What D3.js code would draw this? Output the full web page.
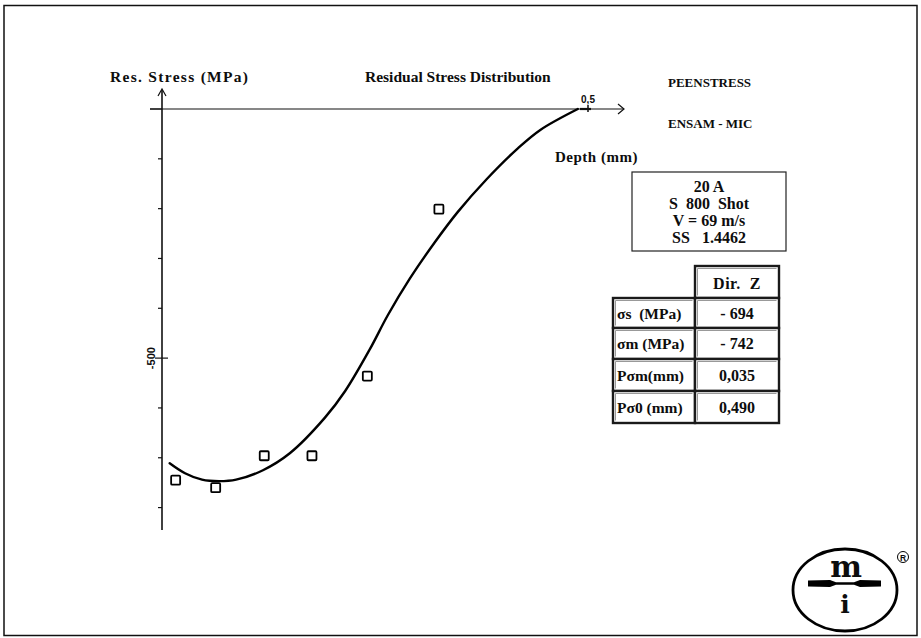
<!DOCTYPE html>
<html>
<head>
<meta charset="utf-8">
<script src="https://cdn.jsdelivr.net/npm/d3@7"></script>
<style>
  html, body { margin: 0; padding: 0; background: #fff; }
  svg { display: block; }
  text { font-family: "Liberation Serif", "Times New Roman", serif; font-weight: bold; fill: #0d0d0d; }
  .small { font-family: "Liberation Sans", Arial, sans-serif; font-weight: bold; }
  .logo { font-family: "DejaVu Serif", serif; font-weight: bold; }
</style>
</head>
<body>
<svg id="chart" width="921" height="638"></svg>
<script>
// Measured residual stress (X-ray points), depth in mm, stress in MPa
const measuredDepth  = [0.016, 0.063, 0.120, 0.176, 0.241, 0.325];
const measuredStress = [-745, -760, -696, -696, -536, -201];

// Fitted profile through the measurements
const fitDepth  = [0.009, 0.027, 0.047, 0.067, 0.087, 0.1185, 0.150, 0.191, 0.215, 0.244, 0.265, 0.291, 0.320, 0.347, 0.381, 0.417, 0.444, 0.488];
const fitStress = [-711, -731, -744, -747, -744, -725, -691, -620, -566, -482, -414, -340, -268, -207, -141, -80, -42, 0];

// Axis ticks
const xTickValues = [0.5];
const xTickLabels = ["0,5"];
const yTickValues = [0, -100, -200, -300, -400, -500, -600, -700, -800];
const yLabelledTicks = [-500];

// Specimen description
const infoLines = ["20 A", "S  800  Shot", "V = 69 m/s", "SS   1.4462"];

// Summary table
const tableHeader = "Dir.  Z";
const tableRowLabels = ["\u03c3s  (MPa)", "\u03c3m (MPa)", "P\u03c3m(mm)", "P\u03c30 (mm)"];
const tableRowValues = ["- 694", "- 742", "0,035", "0,490"];

const svg = d3.select("#chart");

// Outer frame
svg.append("rect").attr("x", 4).attr("y", 5.5).attr("width", 913).attr("height", 630)
  .attr("fill", "none").attr("stroke", "#111").attr("stroke-width", 1.5);

// Scales: origin at the top-left corner of the plot
const x = d3.scaleLinear().domain([0, 0.5]).range([162, 588]);
const y = d3.scaleLinear().domain([0, -845]).range([109, 530]);

// X axis (depth) with arrow
const gx = svg.append("g");
gx.append("line").attr("x1", 150).attr("x2", 624).attr("y1", y(0)).attr("y2", y(0))
  .attr("stroke", "#111").attr("stroke-width", 1.2);
gx.append("path").attr("d", `M618,${y(0) - 5} L624,${y(0)} L618,${y(0) + 5}`)
  .attr("fill", "none").attr("stroke", "#111").attr("stroke-width", 1.2);
xTickValues.forEach((v, i) => {
  gx.append("line").attr("x1", x(v)).attr("x2", x(v)).attr("y1", y(0) - 4).attr("y2", y(0) + 3)
    .attr("stroke", "#111").attr("stroke-width", 1.5);
  gx.append("line").attr("x1", x(v) - 8).attr("x2", x(v) + 3).attr("y1", y(0)).attr("y2", y(0))
    .attr("stroke", "#111").attr("stroke-width", 2.2);
  gx.append("text").attr("class", "small").attr("x", x(v)).attr("y", y(0) - 6)
    .attr("text-anchor", "middle").attr("font-size", 10).text(xTickLabels[i]);
});

// Y axis (stress) with arrow
const gy = svg.append("g");
gy.append("line").attr("x1", x(0)).attr("x2", x(0)).attr("y1", 90).attr("y2", y(-845))
  .attr("stroke", "#111").attr("stroke-width", 1.6);
gy.append("path").attr("d", `M${x(0) - 4},96 L${x(0)},89 L${x(0) + 4},96`)
  .attr("fill", "none").attr("stroke", "#111").attr("stroke-width", 1.2);
yTickValues.forEach(v => {
  const labelled = yLabelledTicks.includes(v);
  const left = v === 0 ? 12 : (labelled ? 7 : 4);
  const right = labelled ? 6 : 0;
  gy.append("line").attr("x1", x(0) - left).attr("x2", x(0) + right)
    .attr("y1", y(v)).attr("y2", y(v)).attr("stroke", "#111").attr("stroke-width", 1.2);
});
yLabelledTicks.forEach(v => {
  gy.append("text").attr("class", "small")
    .attr("transform", `translate(${x(0) - 7},${y(v)}) rotate(-90)`)
    .attr("text-anchor", "middle").attr("font-size", 11).text(v);
});

// Titles and labels
svg.append("text").attr("x", 110).attr("y", 82).attr("font-size", 15.5)
  .attr("letter-spacing", 1.3).text("Res. Stress (MPa)");
svg.append("text").attr("x", 365).attr("y", 82).attr("font-size", 15.5).text("Residual Stress Distribution");
svg.append("text").attr("x", 668).attr("y", 87).attr("font-size", 13).text("PEENSTRESS");
svg.append("text").attr("x", 668).attr("y", 128).attr("font-size", 13).text("ENSAM - MIC");
svg.append("text").attr("x", 555).attr("y", 162).attr("font-size", 15)
  .attr("letter-spacing", 0.5).text("Depth (mm)");

// Fitted curve
const fit = fitDepth.map((d, i) => [d, fitStress[i]]);
svg.append("path")
  .datum(fit)
  .attr("fill", "none").attr("stroke", "#000").attr("stroke-width", 2.4)
  .attr("stroke-linejoin", "round").attr("stroke-linecap", "round")
  .attr("d", d3.line().x(d => x(d[0])).y(d => y(d[1])).curve(d3.curveCatmullRom.alpha(0.5)));

// Measured points
const pts = measuredDepth.map((d, i) => [d, measuredStress[i]]);
svg.append("g").selectAll("rect").data(pts).join("rect")
  .attr("x", d => x(d[0]) - 4.5).attr("y", d => y(d[1]) - 4.5)
  .attr("width", 9).attr("height", 9).attr("rx", 1)
  .attr("fill", "#fff").attr("stroke", "#000").attr("stroke-width", 1.8);

// Specimen description box
svg.append("rect").attr("x", 632).attr("y", 172).attr("width", 154).attr("height", 79)
  .attr("fill", "none").attr("stroke", "#222").attr("stroke-width", 1.2);
infoLines.forEach((t, i) => {
  svg.append("text").attr("x", 709).attr("y", 192 + i * 17).attr("text-anchor", "middle")
    .attr("font-size", 16).style("white-space", "pre").text(t);
});

// Summary table with bevelled cells
const colX = [613, 695, 779];
const rowY = [266, 298, 328, 359, 391, 423];
function cell(x0, y0, x1, y1) {
  svg.append("rect").attr("x", x0).attr("y", y0).attr("width", x1 - x0).attr("height", y1 - y0)
    .attr("fill", "#fff").attr("stroke", "#1a1a1a").attr("stroke-width", 2.4);
  svg.append("path").attr("d", `M${x0 + 2.5},${y1 - 2.5} L${x0 + 2.5},${y0 + 2.5} L${x1 - 2.5},${y0 + 2.5}`)
    .attr("fill", "none").attr("stroke", "#999").attr("stroke-width", 1);
}
cell(colX[1], rowY[0], colX[2], rowY[1]);
svg.append("text").attr("x", (colX[1] + colX[2]) / 2).attr("y", rowY[1] - 9)
  .attr("text-anchor", "middle").attr("font-size", 16).attr("letter-spacing", 0.5)
  .style("white-space", "pre").text(tableHeader);
tableRowLabels.forEach((lab, i) => {
  const y0 = rowY[i + 1], y1 = rowY[i + 2];
  cell(colX[0], y0, colX[1], y1);
  cell(colX[1], y0, colX[2], y1);
  svg.append("text").attr("x", colX[0] + 4).attr("y", (y0 + y1) / 2 + 5.5)
    .attr("font-size", 15.5).style("white-space", "pre").text(lab);
  svg.append("text").attr("x", (colX[1] + colX[2]) / 2).attr("y", (y0 + y1) / 2 + 5.5)
    .attr("text-anchor", "middle").attr("font-size", 16).text(tableRowValues[i]);
});

// Logo
const logo = svg.append("g");
logo.append("ellipse").attr("cx", 845).attr("cy", 590).attr("rx", 52).attr("ry", 41)
  .attr("fill", "none").attr("stroke", "#000").attr("stroke-width", 2.8);
logo.append("text").attr("class", "logo").attr("x", 846).attr("y", 577).attr("text-anchor", "middle")
  .attr("font-size", 30).text("m");
logo.append("text").attr("class", "logo").attr("x", 845).attr("y", 613).attr("text-anchor", "middle")
  .attr("font-size", 25).text("i");
logo.append("path")
  .attr("d", "M808,580.5 L830,580 L836,582.3 L854,582.3 L860,580 L881,580.5 L881,586.5 L860,587 L854,584.7 L836,584.7 L830,587 L808,586.5 Z")
  .attr("fill", "#000");
logo.append("circle").attr("cx", 903).attr("cy", 557).attr("r", 5.5)
  .attr("fill", "none").attr("stroke", "#000").attr("stroke-width", 1);
logo.append("text").attr("class", "small").attr("x", 903).attr("y", 560.5).attr("text-anchor", "middle")
  .attr("font-size", 8.5).text("R");
</script>
</body>
</html>
